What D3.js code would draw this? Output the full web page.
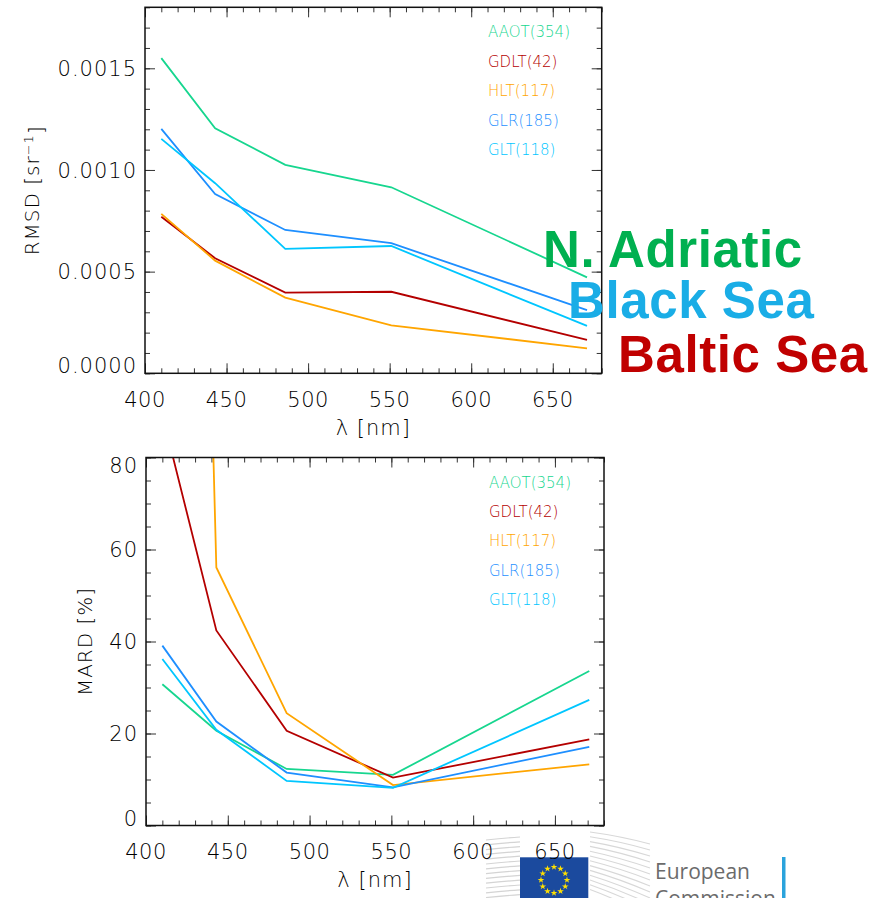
<!DOCTYPE html>
<html>
<head>
<meta charset="utf-8">
<script src="https://cdn.jsdelivr.net/npm/d3@7"></script>
<style>
  html, body { margin: 0; padding: 0; background: #fff; }
  svg text { font-family: "DejaVu Sans", sans-serif; }
  .thin { font-weight: 200; }
</style>
</head>
<body>
<div id="chart"></div>
<script>
// VIIRS bands
var wavelengths = [410, 443, 486, 551, 671];
var seriesNames = ["AAOT(354)", "GDLT(42)", "HLT(117)", "GLR(185)", "GLT(118)"];
var seriesColors = ["#17d68f", "#b40000", "#ffa500", "#1e8fff", "#00c6ff"];

// RMSD [sr^-1]
var rmsdAAOT = [0.00155, 0.001205, 0.001025, 0.000915, 0.000472];
var rmsdGDLT = [0.00077, 0.000566, 0.000397, 0.000401, 0.000164];
var rmsdHLT  = [0.000784, 0.000554, 0.000372, 0.000236, 0.000123];
var rmsdGLR  = [0.001202, 0.000882, 0.000705, 0.00064, 0.000311];
var rmsdGLT  = [0.001153, 0.000935, 0.000612, 0.000626, 0.000233];

// MARD [%]  (first HLT / GDLT points are off the top of the plot)
var mardAAOT = [30.7, 20.6, 12.3, 11.0, 33.6];
var mardGDLT = [89.3, 42.4, 20.6, 10.4, 18.7];
var mardHLT  = [500, 56.1, 24.4, 8.8, 13.3];
var mardGLR  = [39.1, 22.6, 11.5, 8.3, 17.1];
var mardGLT  = [36.2, 20.8, 9.7, 8.2, 27.3];

var xTickLabels = ["400", "450", "500", "550", "600", "650"];
var rmsdTickLabels = ["0.0000", "0.0005", "0.0010", "0.0015"];
var mardTickLabels = ["0", "20", "40", "60", "80"];

var regionNames = ["N. Adriatic", "Black Sea", "Baltic Sea"];
var regionColors = ["#00b050", "#1aade6", "#c00000"];

var W = 872, H = 898;

var svg = d3.select("#chart")
            .append("svg")
            .attr("width", W)
            .attr("height", H);

svg.append("rect").attr("width", W).attr("height", H).style("fill", "#fff");

// European Commission logo (bottom, cut off by the page edge) - drawn first, chart text sits on top
var logo = svg.append("g").attr("id", "ec-logo");
d3.range(0, 13).forEach(function(i){
  var yy = 838 + i * 4.8;
  logo.append("path")
      .attr("d", "M486," + (yy + 2) + " Q505," + yy + " 520," + (yy - 1))
      .style("fill", "none").style("stroke", "#d4d4d4").style("stroke-width", 1.2);
  logo.append("path")
      .attr("d", "M590," + (yy - 6) + " Q620," + (yy - 2 + i * 0.6) + " 650," + (yy + 6 + i * 1.2))
      .style("fill", "none").style("stroke", "#d8d8d8").style("stroke-width", 1.1);
});
logo.append("rect").attr("x", 520).attr("y", 857.3).attr("width", 68.3).attr("height", 45)
    .style("fill", "#1b4a9e");
var star = d3.symbol().type(d3.symbolStar).size(14);
d3.range(12).forEach(function(i){
  var a = i / 12 * 2 * Math.PI;
  logo.append("path")
      .attr("d", star())
      .attr("transform", "translate(" + (554 + 13 * Math.sin(a)) + "," + (880 - 13 * Math.cos(a)) + ")")
      .style("fill", "#ffe000");
});
logo.append("text").attr("x", 655).attr("y", 879)
    .style("font-family", "'Open Sans', 'Liberation Sans', sans-serif")
    .style("font-size", "21px").style("fill", "#6b6b6b")
    .text("European");
logo.append("text").attr("x", 655).attr("y", 906)
    .style("font-family", "'Open Sans', 'Liberation Sans', sans-serif")
    .style("font-size", "21px").style("fill", "#6b6b6b")
    .text("Commission");
logo.append("rect").attr("x", 782).attr("y", 857).attr("width", 3.5).attr("height", 45)
    .style("fill", "#2aa3dc");

var drawPanel = function(p){
  var x = d3.scaleLinear().domain([400, 680]).range([p.left, p.right]);
  var y = d3.scaleLinear().domain(p.yDomain).range([p.bottom, p.top]);
  var g = svg.append("g").attr("id", p.id);

  g.append("clipPath").attr("id", p.id + "-clip")
   .append("rect")
   .attr("x", p.left).attr("y", p.top)
   .attr("width", p.right - p.left).attr("height", p.bottom - p.top);

  var xMajor = xTickLabels.map(Number);
  var xMinor = d3.range(400, 681, 10);
  var yMajor = p.yLabels.map(Number);
  var yMinor = d3.range(0, p.yDomain[1] / p.yStep + 0.5).map(function(i){ return i * p.yStep; });

  // ticks on all four sides, pointing in
  var addAxis = function(axis, tx, ty){
    var a = g.append("g").attr("transform", "translate(" + tx + "," + ty + ")").call(axis);
    a.select(".domain").remove();
    a.selectAll("line").style("stroke", "#333").style("stroke-width", 1);
  };
  addAxis(d3.axisBottom(x).tickValues(xMajor).tickSize(-10).tickFormat(""), 0, p.bottom);
  addAxis(d3.axisBottom(x).tickValues(xMinor).tickSize(-5).tickFormat(""), 0, p.bottom);
  addAxis(d3.axisTop(x).tickValues(xMajor).tickSize(-10).tickFormat(""), 0, p.top);
  addAxis(d3.axisTop(x).tickValues(xMinor).tickSize(-5).tickFormat(""), 0, p.top);
  addAxis(d3.axisLeft(y).tickValues(yMajor).tickSize(-10).tickFormat(""), p.left, 0);
  addAxis(d3.axisLeft(y).tickValues(yMinor).tickSize(-5).tickFormat(""), p.left, 0);
  addAxis(d3.axisRight(y).tickValues(yMajor).tickSize(-10).tickFormat(""), p.right, 0);
  addAxis(d3.axisRight(y).tickValues(yMinor).tickSize(-5).tickFormat(""), p.right, 0);

  // tick labels
  g.selectAll(".xlab").data(xTickLabels).enter().append("text")
   .attr("class", "thin")
   .attr("x", function(d){ return x(+d); })
   .attr("y", p.bottom + 33.7)
   .attr("text-anchor", "middle")
   .style("font-size", "21px").style("fill", "#000")
   .style("letter-spacing", "0.5px")
   .text(function(d){ return d; });

  g.selectAll(".ylab").data(p.yLabels).enter().append("text")
   .attr("class", "thin")
   .attr("x", p.left - 8)
   .attr("y", function(d){
     var yy = y(+d);
     return Math.max(p.top + 7.5, Math.min(p.bottom - 7.5, yy));
   })
   .attr("dy", "0.36em")
   .attr("text-anchor", "end")
   .style("font-size", "21px").style("fill", "#000")
   .style("letter-spacing", "1px")
   .text(function(d){ return d; });

  // axis titles
  g.append("text")
   .attr("class", "thin")
   .attr("x", (p.left + p.right) / 2)
   .attr("y", p.bottom + 61.7)
   .attr("text-anchor", "middle")
   .style("font-size", "21px").style("fill", "#000")
   .style("letter-spacing", "1px")
   .text("\u03bb [nm]");

  var yt = g.append("text")
   .attr("class", "thin")
   .attr("transform", "translate(" + p.yTitleX + "," + (p.top + p.bottom) / 2 + ") rotate(-90)")
   .attr("text-anchor", "middle")
   .style("font-size", "20px").style("fill", "#000")
   .style("letter-spacing", "1px");
  yt.append("tspan").text(p.yTitle);
  if(p.yTitleSup){
    yt.append("tspan").attr("dy", "-0.5em").style("font-size", "13px").text(p.yTitleSup);
    yt.append("tspan").attr("dy", "0.5em").text("]");
  }

  // lines
  var line = d3.line()
               .x(function(d, i){ return x(wavelengths[i]); })
               .y(function(d){ return y(d); });
  var lines = g.append("g").attr("clip-path", "url(#" + p.id + "-clip)");
  for(var s = 0; s < p.series.length; s++){
    lines.append("path")
         .attr("d", line(p.series[s]))
         .style("fill", "none")
         .style("stroke", seriesColors[s])
         .style("stroke-width", 1.8);
  }

  // legend
  g.selectAll(".leg").data(seriesNames).enter().append("text")
   .attr("class", "thin")
   .attr("x", p.left + 343)
   .attr("y", function(d, i){ return p.top + 24.6 + i * 29.4; })
   .attr("dy", "0.36em")
   .style("font-size", "15px")
   .style("fill", function(d, i){ return seriesColors[i]; })
   .text(function(d){ return d; });

  // frame
  g.append("rect")
   .attr("x", p.left).attr("y", p.top)
   .attr("width", p.right - p.left).attr("height", p.bottom - p.top)
   .style("fill", "none").style("stroke", "#111").style("stroke-width", 1.5);
};

drawPanel({
  id: "rmsd", left: 145, right: 601.7, top: 7.3, bottom: 373.3,
  yDomain: [0, 0.0018], yStep: 0.0001, yLabels: rmsdTickLabels,
  yTitle: "RMSD [sr", yTitleSup: "\u22121", yTitleX: 39,
  series: [rmsdAAOT, rmsdGDLT, rmsdHLT, rmsdGLR, rmsdGLT]
});

drawPanel({
  id: "mard", left: 146, right: 604, top: 457.5, bottom: 825.5,
  yDomain: [0, 80], yStep: 5, yLabels: mardTickLabels,
  yTitle: "MARD [%]", yTitleSup: null, yTitleX: 91.5,
  series: [mardAAOT, mardGDLT, mardHLT, mardGLR, mardGLT]
});

// region labels
var regionX = [543, 568, 618], regionY = [266.7, 318.3, 371.7];
svg.selectAll(".region").data(regionNames).enter().append("text")
   .attr("x", function(d, i){ return regionX[i]; })
   .attr("y", function(d, i){ return regionY[i]; })
   .style("font-family", "'Liberation Sans', Arial, sans-serif")
   .style("font-weight", "bold")
   .style("font-size", "51px")
   .style("letter-spacing", "0.6px")
   .style("fill", function(d, i){ return regionColors[i]; })
   .text(function(d){ return d; });
</script>
</body>
</html>
